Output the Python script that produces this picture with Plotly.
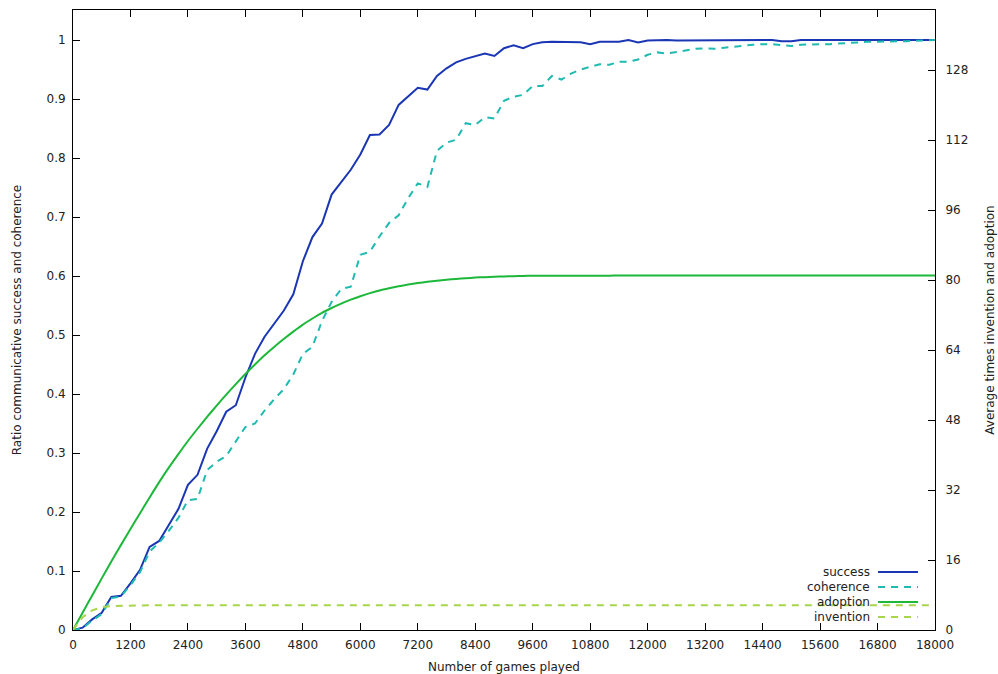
import plotly.graph_objects as go

# ---- data ----
games = list(range(0, 18001, 200))

success = [
    0.000, 0.004, 0.018, 0.029, 0.056, 0.058, 0.079, 0.102, 0.141, 0.151,
    0.178, 0.205, 0.246, 0.263, 0.307, 0.337, 0.370, 0.381, 0.428, 0.468,
    0.497, 0.518, 0.541, 0.569, 0.625, 0.666, 0.689, 0.738, 0.760, 0.780,
    0.806, 0.839, 0.840, 0.856, 0.890, 0.904, 0.919, 0.916, 0.939, 0.952,
    0.962, 0.968, 0.972, 0.977, 0.973, 0.986, 0.991, 0.986, 0.993, 0.996,
    0.997, 0.997, 0.996, 0.996, 0.993, 0.997, 0.997, 0.997, 1.000, 0.996,
    0.999, 1.000, 1.000, 0.999, 0.999, 0.999, 1.000, 0.999, 1.000, 1.000,
    1.000, 0.999, 0.999, 1.000, 0.998, 0.998, 1.000, 1.000, 1.000, 1.000,
    1.000, 1.000, 1.000, 1.000, 1.000, 1.000, 1.000, 1.000, 1.000, 1.000,
    1.000,
]

coherence = [
    0.000, 0.003, 0.016, 0.027, 0.054, 0.057, 0.076, 0.098, 0.133, 0.148,
    0.168, 0.190, 0.220, 0.222, 0.271, 0.285, 0.295, 0.319, 0.344, 0.350,
    0.372, 0.391, 0.408, 0.433, 0.468, 0.480, 0.524, 0.556, 0.578, 0.582,
    0.636, 0.641, 0.667, 0.690, 0.703, 0.732, 0.757, 0.751, 0.812, 0.826,
    0.831, 0.859, 0.856, 0.869, 0.867, 0.897, 0.904, 0.907, 0.922, 0.922,
    0.939, 0.933, 0.943, 0.950, 0.954, 0.959, 0.958, 0.963, 0.963, 0.967,
    0.975, 0.979, 0.977, 0.980, 0.983, 0.985, 0.986, 0.985, 0.987, 0.989,
    0.990, 0.992, 0.993, 0.993, 0.991, 0.990, 0.992, 0.993, 0.993, 0.993,
    0.994, 0.996, 0.996, 0.997, 0.997, 0.998, 0.998, 0.998, 0.999, 1.000,
    1.000,
]

adoption = [
    0.0, 3.96, 7.9, 11.8, 15.65, 19.4, 23.1, 26.7, 30.3, 33.8,
    37.1, 40.2, 43.2, 46.0, 48.7, 51.3, 53.8, 56.2, 58.5, 60.7,
    62.8, 64.7, 66.5, 68.2, 69.8, 71.2, 72.5, 73.6, 74.6, 75.5,
    76.3, 77.0, 77.6, 78.1, 78.55, 78.95, 79.3, 79.6, 79.85, 80.05,
    80.25, 80.4, 80.55, 80.65, 80.75, 80.82, 80.88, 80.93, 80.97, 81.0,
    81.0, 81.0, 81.0, 81.0, 81.0, 81.0, 81.0, 81.05, 81.05, 81.05,
    81.05, 81.05, 81.05, 81.05, 81.05, 81.05, 81.05, 81.05, 81.05, 81.05,
    81.05, 81.05, 81.05, 81.05, 81.05, 81.05, 81.05, 81.05, 81.05, 81.05,
    81.05, 81.05, 81.05, 81.05, 81.05, 81.05, 81.05, 81.05, 81.05, 81.05,
    81.05,
]

invention = [
    0.0, 2.9, 4.5, 5.2, 5.45, 5.55, 5.6, 5.62, 5.63, 5.64,
    5.65, 5.65, 5.65, 5.65, 5.65, 5.65, 5.65, 5.65, 5.65, 5.65,
    5.65, 5.65, 5.65, 5.65, 5.65, 5.65, 5.65, 5.65, 5.65, 5.65,
    5.65, 5.65, 5.65, 5.65, 5.65, 5.65, 5.65, 5.65, 5.65, 5.65,
    5.65, 5.65, 5.65, 5.65, 5.65, 5.65, 5.65, 5.65, 5.65, 5.65,
    5.65, 5.65, 5.65, 5.65, 5.65, 5.65, 5.65, 5.65, 5.65, 5.65,
    5.65, 5.65, 5.65, 5.65, 5.65, 5.65, 5.65, 5.65, 5.65, 5.65,
    5.65, 5.65, 5.65, 5.65, 5.65, 5.65, 5.65, 5.65, 5.65, 5.65,
    5.65, 5.65, 5.65, 5.65, 5.65, 5.65, 5.65, 5.65, 5.65, 5.65,
    5.65,
]

x_ticks = list(range(0, 18001, 1200))
x_tick_labels = [str(v) for v in x_ticks]
left_ticks = [0, 0.1, 0.2, 0.3, 0.4, 0.5, 0.6, 0.7, 0.8, 0.9, 1]
right_ticks = [0, 16, 32, 48, 64, 80, 96, 112, 128]

series_names = ["success", "coherence", "adoption", "invention"]
colors = {"success": "#1a36b4", "coherence": "#1fbab0",
          "adoption": "#1db83a", "invention": "#a8d64a"}
dashes = {"success": "solid", "coherence": "7px,6px",
          "adoption": "solid", "invention": "7px,6px"}

FONT = "DejaVu Sans"

fig = go.Figure()
fig.add_trace(go.Scatter(x=games, y=success, mode="lines", name="success",
                         line=dict(color=colors["success"], width=2, dash=dashes["success"])))
fig.add_trace(go.Scatter(x=games, y=coherence, mode="lines", name="coherence",
                         line=dict(color=colors["coherence"], width=2, dash=dashes["coherence"])))
fig.add_trace(go.Scatter(x=games, y=adoption, mode="lines", name="adoption", yaxis="y2",
                         line=dict(color=colors["adoption"], width=2, dash=dashes["adoption"],
                                   shape="spline", smoothing=0.6)))
fig.add_trace(go.Scatter(x=games, y=invention, mode="lines", name="invention", yaxis="y2",
                         line=dict(color=colors["invention"], width=2, dash=dashes["invention"])))

# manual gnuplot-style legend (text, then sample line to the right)
shapes = []
annotations = []
leg_y = [0.0935, 0.0694, 0.0452, 0.021]
for name, yy in zip(series_names, leg_y):
    annotations.append(dict(x=0.9269, y=yy, xref="paper", yref="paper", text=name,
                            showarrow=False, xanchor="right", yanchor="middle",
                            font=dict(family=FONT, size=12, color="#222222")))
    shapes.append(dict(type="line", xref="paper", yref="paper", x0=0.9339, x1=0.9803,
                       y0=yy, y1=yy,
                       line=dict(color=colors[name], width=2, dash=dashes[name])))

axis_font = dict(family=FONT, size=12, color="#222222")

fig.update_layout(
    width=998, height=674,
    margin=dict(l=73, r=63, t=10, b=44, autoexpand=False),
    paper_bgcolor="white", plot_bgcolor="white",
    showlegend=False,
    font=axis_font,
    xaxis=dict(range=[0, 18000], tickvals=x_ticks, ticktext=x_tick_labels,
               ticks="inside", ticklen=7,
               tickcolor="black", showline=True, linecolor="black", linewidth=1,
               mirror="ticks", showgrid=False, zeroline=False,
               tickfont=axis_font, ticklabelstandoff=4,
               title=dict(text="Number of games played", font=axis_font, standoff=11)),
    yaxis=dict(range=[0, 620 / 590], tickvals=left_ticks, ticks="inside", ticklen=7,
               tickcolor="black", showline=True, linecolor="black", linewidth=1,
               showgrid=False, zeroline=False, tickfont=axis_font, ticklabelstandoff=4,
               title=dict(text="Ratio communicative success and coherence", font=axis_font,
                          standoff=22)),
    yaxis2=dict(range=[0, 620 / 4.375], tickvals=right_ticks, ticks="inside", ticklen=7,
                tickcolor="black", showline=True, linecolor="black", linewidth=1,
                overlaying="y", side="right", showgrid=False, zeroline=False,
                tickfont=axis_font, ticklabelstandoff=7,
                title=dict(text="Average times invention and adoption", font=axis_font,
                           standoff=18)),
    shapes=shapes,
    annotations=annotations,
)

fig.write_html("out.html")
